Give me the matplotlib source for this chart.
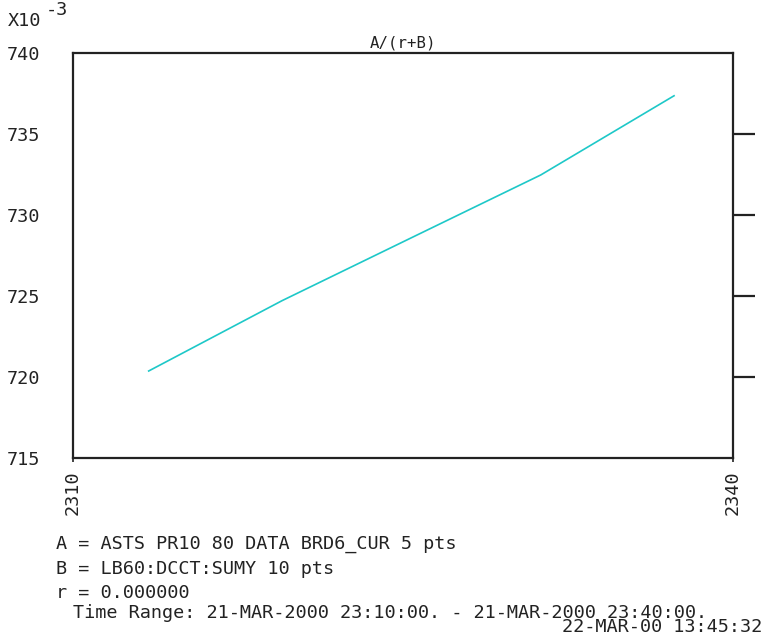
import numpy as np
import matplotlib.pyplot as plt

# data (minutes after 23:00, ratio x1e-3)
t_min = [13.44, 19.5, 25.48, 31.26, 37.32]
ratio = [720.37, 724.71, 728.66, 732.47, 737.36]

yticks = [715, 720, 725, 730, 735, 740]
xticks = [10, 40]
xticklabels = ["2310", "2340"]

mono = "DejaVu Sans Mono"
fs = 13.3
ink = "#222222"

fig = plt.figure(figsize=(7.64, 6.33), dpi=100)
ax = fig.add_axes([73/764, 1 - 458/633, 660/764, 405/633])

ax.plot(t_min, ratio, color="#1ec8c8", lw=1.2)
ax.set_xlim(10, 40)
ax.set_ylim(715, 740)

# right-hand tick marks only
ax2 = ax.twinx()
ax2.set_ylim(715, 740)
ax2.set_yticks([720, 725, 730, 735])
ax2.set_yticklabels([])
ax2.tick_params(axis="y", direction="out", length=16, width=1.6, color=ink)
for s in ax2.spines.values():
    s.set_visible(False)

for s in ax.spines.values():
    s.set_color(ink)
    s.set_linewidth(1.6)

ax.set_yticks(yticks)
ax.set_yticklabels([str(v) for v in yticks], fontfamily=mono, fontsize=fs, color=ink)
ax.tick_params(axis="y", left=False, right=False, pad=20)

ax.set_xticks(xticks)
ax.set_xticklabels(xticklabels, rotation=90, fontfamily=mono, fontsize=fs, color=ink)
ax.tick_params(axis="x", direction="out", length=3, width=1.2, color=ink, pad=6)

ax.set_title("A/(r+B)", fontfamily=mono, fontsize=fs - 2, color=ink, pad=4)

fig.text(8/764, 1 - 26/633, "X10", fontfamily=mono, fontsize=fs, color=ink, va="baseline")
fig.text(46/764, 1 - 15/633, "-3", fontfamily=mono, fontsize=fs, color=ink, va="baseline")

lines = [
    (56, 549, "A = ASTS PR10 80 DATA BRD6_CUR 5 pts"),
    (56, 574, "B = LB60:DCCT:SUMY 10 pts"),
    (56, 598, "r = 0.000000"),
    (73, 618, "Time Range: 21-MAR-2000 23:10:00. - 21-MAR-2000 23:40:00."),
    (562, 632, "22-MAR-00 13:45:32"),
]
for x, y, s in lines:
    fig.text(x/764, 1 - y/633, s, fontfamily=mono, fontsize=fs, color=ink, va="baseline")

fig.savefig("out.png", dpi=100)
